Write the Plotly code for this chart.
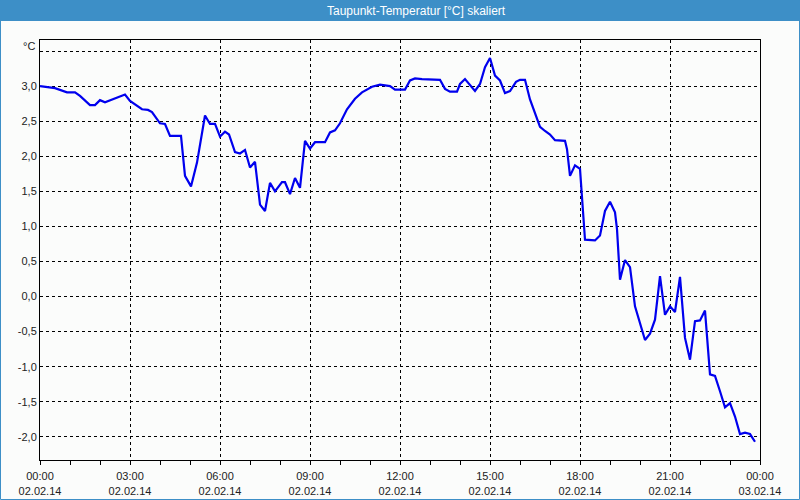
import plotly.graph_objects as go

# ---- data (minutes after 02.02.14 00:00, dew point in °C) ----
minutes = [0, 14, 30, 54, 70, 80, 100, 110, 120, 130, 144, 156, 170, 180, 194, 204, 216, 224,
           240, 250, 260, 282, 290, 302, 314, 330, 340, 350, 360, 370, 378, 390, 400, 410,
           420, 430, 440, 450, 460, 470, 484, 490, 500, 510, 520, 530, 540, 550, 570, 580,
           590, 600, 614, 630, 644, 664, 680, 700, 710, 730, 740, 750, 764, 800, 810, 820,
           834, 840, 850, 860, 870, 880, 890, 900, 910, 920, 930, 940, 952, 960, 970, 980,
           990, 1000, 1010, 1020, 1030, 1050, 1054, 1060, 1070, 1080, 1090, 1110, 1120, 1130,
           1140, 1150, 1154, 1160, 1170, 1180, 1190, 1200, 1210, 1220, 1230, 1240, 1250, 1260,
           1270, 1280, 1290, 1300, 1310, 1320, 1330, 1340, 1350, 1360, 1370, 1380, 1390, 1400,
           1410, 1420, 1430]
values = [3.00, 2.99, 2.97, 2.91, 2.91, 2.86, 2.73, 2.73, 2.80, 2.77, 2.81, 2.84, 2.88, 2.79,
          2.72, 2.67, 2.66, 2.63, 2.47, 2.46, 2.29, 2.29, 1.72, 1.57, 1.91, 2.58, 2.46, 2.46,
          2.28, 2.35, 2.31, 2.06, 2.04, 2.09, 1.84, 1.92, 1.31, 1.22, 1.62, 1.50, 1.63, 1.63,
          1.46, 1.69, 1.55, 2.22, 2.11, 2.20, 2.20, 2.34, 2.37, 2.47, 2.67, 2.82, 2.91, 2.99,
          3.02, 3.00, 2.95, 2.95, 3.08, 3.11, 3.10, 3.09, 2.96, 2.92, 2.92, 3.03, 3.10, 3.01,
          2.93, 3.03, 3.27, 3.40, 3.15, 3.08, 2.90, 2.93, 3.06, 3.09, 3.09, 2.81, 2.60, 2.42,
          2.36, 2.31, 2.23, 2.22, 2.10, 1.72, 1.87, 1.82, 0.81, 0.80, 0.87, 1.22, 1.35, 1.20,
          0.96, 0.24, 0.52, 0.42, -0.14, -0.38, -0.62, -0.53, -0.33, 0.29, -0.26, -0.14, -0.22,
          0.28, -0.59, -0.90, -0.35, -0.34, -0.20, -1.11, -1.13, -1.35, -1.58, -1.52, -1.71,
          -1.96, -1.94, -1.96, -2.07]

x_tick_hours = [0, 3, 6, 9, 12, 15, 18, 21, 24]
x_tick_text = ["00:00<br>02.02.14", "03:00<br>02.02.14", "06:00<br>02.02.14",
               "09:00<br>02.02.14", "12:00<br>02.02.14", "15:00<br>02.02.14",
               "18:00<br>02.02.14", "21:00<br>02.02.14", "00:00<br>03.02.14"]
y_tick_vals = [-2.0, -1.5, -1.0, -0.5, 0.0, 0.5, 1.0, 1.5, 2.0, 2.5, 3.0, 3.5]
y_tick_text = ["-2,0", "-1,5", "-1,0", "-0,5", "0,0", "0,5", "1,0", "1,5", "2,0", "2,5", "3,0", ""]

title_text = "Taupunkt-Temperatur [°C] skaliert"
unit_text = "°C"

hours = [m / 60 for m in minutes]

W, H = 800, 500
L, R, T, B = 40, 40, 40, 40
PW, PH = W - L - R, H - T - B

def px(xp):
    return (xp - L) / PW

def py(yp):
    return 1 - (yp - T) / PH

bg = "#fbfcfb"
blue_bar = "#3d8fc7"
font_fam = "Liberation Sans, Arial, sans-serif"

fig = go.Figure()
fig.add_trace(go.Scatter(x=hours, y=values, mode="lines",
                         line=dict(color="#0000ee", width=2.2), hoverinfo="skip",
                         showlegend=False))

fig.update_layout(
    width=W, height=H,
    margin=dict(l=L, r=R, t=T, b=B),
    paper_bgcolor=bg, plot_bgcolor=bg,
    font=dict(family=font_fam, size=11, color="#222222"),
    xaxis=dict(
        range=[0, 24], tickvals=x_tick_hours, ticktext=x_tick_text,
        showgrid=True, gridcolor="black", griddash="3px,3px", gridwidth=1,
        showline=True, linecolor="black", linewidth=1, mirror=True,
        ticks="outside", ticklen=4, tickcolor="black",
        minor=dict(dtick=1, ticks="outside", ticklen=4, tickcolor="black", showgrid=False),
        zeroline=False, tickfont=dict(size=11, color="#222222"),
        automargin=False, ticklabelstandoff=2,
    ),
    yaxis=dict(
        range=[-2.33, 3.657], tickvals=y_tick_vals, ticktext=y_tick_text,
        showgrid=True, gridcolor="black", griddash="3px,3px", gridwidth=1,
        showline=True, linecolor="black", linewidth=1, mirror=True,
        ticks="", zeroline=False, tickfont=dict(size=11, color="#222222"),
        automargin=False,
    ),
    shapes=[
        dict(type="rect", xref="paper", yref="paper",
             x0=px(0), x1=px(800), y0=py(21), y1=py(0),
             fillcolor=blue_bar, line=dict(width=0), layer="above"),
        dict(type="rect", xref="paper", yref="paper",
             x0=px(0.5), x1=px(799.5), y0=py(499.5), y1=py(0.5),
             fillcolor="rgba(0,0,0,0)", line=dict(color=blue_bar, width=1), layer="above"),
    ],
    annotations=[
        dict(text=title_text, xref="paper", yref="paper", x=px(416), y=py(10.5),
             xanchor="center", yanchor="middle", showarrow=False,
             font=dict(family=font_fam, size=12, color="white")),
        dict(text=unit_text, xref="paper", yref="paper", x=px(37), y=py(46),
             xanchor="right", yanchor="middle", showarrow=False,
             font=dict(family=font_fam, size=11, color="#222222")),
    ],
)

fig.write_html("out.html")
